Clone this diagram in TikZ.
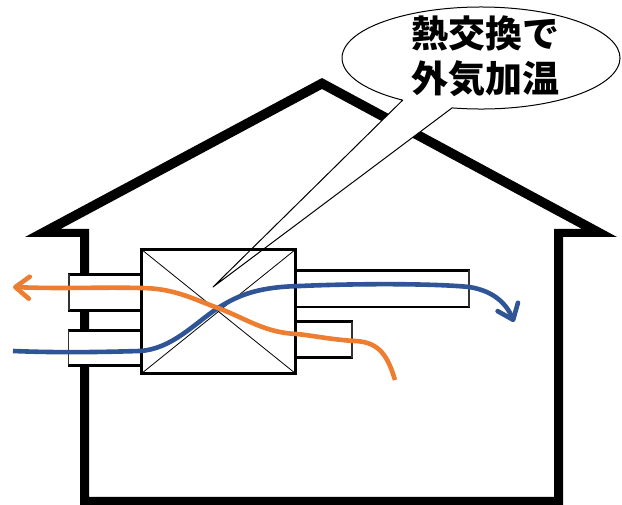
\documentclass[tikz,border=0pt]{standalone}
\usepackage{fontspec}
\newfontfamily\jpfont{Noto Sans CJK JP}
\usetikzlibrary{arrows.meta}
\definecolor{airwarm}{HTML}{ED7D31}
\definecolor{aircool}{HTML}{2F5597}
% one duct: left x, right x, bottom y, top y, x of the open (thin) end
\newcommand\ductpiece[5]{%
  \fill[white] (#1,#3) rectangle (#2,#4);
  \draw[ductside] (#1,#4) -- (#2,#4) (#1,#3) -- (#2,#3);
  \draw[ductend] (#5,#3) -- (#5,#4);
}
\begin{document}
\begin{tikzpicture}[x=1pt,y=1pt,
  wall/.style={fill=black, even odd rule},
  ductside/.style={line width=2.6pt},
  ductend/.style={line width=1.4pt, draw=black!80},
  unitbox/.style={draw=black, line width=3pt, inner sep=0pt, outer sep=0pt,
    minimum width=154pt, minimum height=124pt},
  hxdiag/.style={line width=0.8pt},
  flow/.style={line width=4.6pt, -{Straight Barb[round,length=14pt,width=22pt]}},
  callout/.style={fill=white, draw=black, line width=1pt, line join=round},
  bubbletext/.style={font=\jpfont\bfseries\fontsize{37}{45}\selectfont,
    align=center, inner sep=0pt}
]
\useasboundingbox (0,0) rectangle (622,505);

% house: walls, floor and roof as one thick outline
\path[wall]
  (80,0) -- (80,268) -- (25,268) -- (322,427) -- (617,268) -- (563,268) -- (563,0) -- cycle
  (89,8) -- (89,276) -- (60.5,276) -- (322,416) -- (582,276) -- (554,276) -- (554,8) -- cycle;

% ducts through the wall and into the rooms
\ductpiece{68}{141}{194.5}{230.5}{69}
\ductpiece{67.5}{141}{139.7}{174.7}{68.5}
\ductpiece{296}{470}{198}{234.5}{469}
\ductpiece{296}{353}{147.2}{183.3}{352}

% speech bubble with its pointer into the exchanger
\coordinate (bubblebase) at (452.1,397.1);
\coordinate (pointer) at (213,218);
\path[callout] (bubblebase)
  arc[start angle=258, end angle=595.7, x radius=139pt, y radius=51pt]
  -- (pointer) -- cycle;
\node[bubbletext] (msg) at (485,448.5) {熱交換で\\外気加温};

% heat exchanger unit
\node[unitbox] (hx) at (218.5,193.5) {};
\draw[hxdiag] (hx.north west) -- (hx.south east);
\draw[hxdiag] (hx.north east) -- (hx.south west);

% air flows
\coordinate (coolin) at (13,154);
\coordinate (coolout) at (514,183);
\coordinate (warmin) at (395,125);
\coordinate (warmout) at (13,218);

\draw[flow, aircool] (coolin)
  .. controls (60,152) and (105,153) .. (140,154)
  .. controls (172,156) and (195,182) .. (218,197)
  .. controls (240,211) and (260,218) .. (300,219)
  .. controls (370,222) and (440,221) .. (469,218)
  .. controls (495,214) and (507,200) .. (coolout);

\draw[flow, airwarm] (warmin)
  .. controls (388,148) and (380,163) .. (355,164)
  .. controls (335,165) and (315,169) .. (297,171)
  .. controls (265,172) and (245,187) .. (218,197)
  .. controls (195,205) and (175,217) .. (140,217)
  .. controls (100,218) and (60,216) .. (warmout);
\end{tikzpicture}
\end{document}
